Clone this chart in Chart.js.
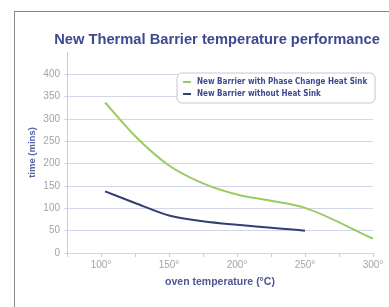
<!DOCTYPE html>
<html lang="en">
<head>
    <meta charset="UTF-8">
    <title>New Thermal Barrier temperature performance</title>
    <script src="https://cdn.jsdelivr.net/npm/chart.js@4.4.1/dist/chart.umd.min.js"></script>
    <style>
        * {
            margin: 0;
            padding: 0;
            box-sizing: border-box;
        }

        body {
            background: #fff;
            width: 389px;
            height: 307px;
            overflow: hidden;
            position: relative;
        }

        /* grey frame round the picture, only top and left show */
        .frame {
            position: absolute;
            left: 14px;
            top: 11px;
            width: 400px;
            height: 320px;
            border-left: 1px solid #8a8a8a;
            border-top: 1px solid #8a8a8a;
        }

        .chart-box {
            position: absolute;
            left: 0;
            top: 0;
            width: 389px;
            height: 307px;
        }
    </style>
</head>
<body>
    <div class="frame"></div>
    <div class="chart-box">
        <canvas id="chart"></canvas>
    </div>

    <script>
        // Data
        const seriesNames = ['New Barrier with Phase Change Heat Sink', 'New Barrier without Heat Sink'];
        const withSinkTemp = [103, 125, 150, 175, 200, 225, 250, 300];
        const withSinkTime = [337, 262, 196, 156, 131, 117, 101, 32];
        const noSinkTemp = [103, 125, 150, 175, 200, 250];
        const noSinkTime = [138, 112, 84, 71, 63, 50];
        const xTickLabels = [100, 150, 200, 250, 300];

        const gridColor = '#d3d6e8';
        const titleColor = '#3d4a8e';
        const baseFont = 'Arial, "Liberation Sans", sans-serif';

        const toPoints = (xs, ys) => xs.map((x, i) => ({ x: x, y: ys[i] }));

        // title + boxed legend inside the plot
        const decorations = {
            id: 'decorations',
            afterDraw(chart) {
                const ctx = chart.ctx;
                ctx.save();
                ctx.fillStyle = titleColor;
                ctx.font = 'bold 14.7px ' + baseFont;
                ctx.textAlign = 'center';
                ctx.textBaseline = 'middle';
                ctx.fillText('New Thermal Barrier temperature performance', 217, 40);

                // legend box
                const bx = 177, by = 73, bw = 198, bh = 30;
                ctx.beginPath();
                ctx.roundRect(bx, by, bw, bh, 5);
                ctx.fillStyle = '#fff';
                ctx.fill();
                ctx.strokeStyle = '#c4c7da';
                ctx.lineWidth = 1;
                ctx.stroke();

                ctx.textAlign = 'left';
                ctx.font = 'bold 8px "DejaVu Sans Condensed", "Liberation Sans Narrow", sans-serif';
                chart.data.datasets.forEach((ds, i) => {
                    const y = 82 + i * 12;
                    ctx.strokeStyle = ds.borderColor;
                    ctx.lineWidth = 2;
                    ctx.beginPath();
                    ctx.moveTo(183, y);
                    ctx.lineTo(191, y);
                    ctx.stroke();
                    ctx.fillStyle = titleColor;
                    ctx.fillText(ds.label, 197, y);
                });
                ctx.restore();
            }
        };

        new Chart(document.getElementById('chart'), {
            type: 'line',
            data: {
                datasets: [{
                    label: seriesNames[0],
                    data: toPoints(withSinkTemp, withSinkTime),
                    borderColor: '#98cc60',
                    borderWidth: 2,
                    pointRadius: 0,
                    cubicInterpolationMode: 'monotone'
                }, {
                    label: seriesNames[1],
                    data: toPoints(noSinkTemp, noSinkTime),
                    borderColor: '#323e74',
                    borderWidth: 2,
                    pointRadius: 0,
                    cubicInterpolationMode: 'monotone'
                }]
            },
            options: {
                responsive: true,
                maintainAspectRatio: false,
                animation: false,
                layout: {
                    padding: { top: 52, right: 16, left: 0, bottom: 0 }
                },
                plugins: {
                    legend: { display: false },
                    title: { display: false },
                    tooltip: { enabled: false }
                },
                scales: {
                    x: {
                        type: 'linear',
                        min: 75,
                        max: 300,
                        afterFit: s => { s.height = 54; },
                        border: { color: gridColor },
                        grid: {
                            drawOnChartArea: false,
                            drawTicks: true,
                            tickLength: 4,
                            color: '#c8cbdc'
                        },
                        ticks: {
                            stepSize: 25,
                            autoSkip: false,
                            maxRotation: 0,
                            padding: 2,
                            color: '#a4a4a4',
                            font: { size: 10, family: baseFont },
                            callback: v => xTickLabels.includes(v) ? v + '°' : ''
                        },
                        title: {
                            display: true,
                            text: 'oven temperature (°C)',
                            color: '#4b5893',
                            font: { size: 10.5, weight: 'bold', family: baseFont },
                            padding: { top: 19, bottom: 19 }
                        }
                    },
                    y: {
                        min: 0,
                        max: 450,
                        afterFit: s => { s.width = 67; },
                        border: { color: '#c8cbdc' },
                        grid: {
                            color: c => c.tick && c.tick.value === 450 ? 'rgba(0,0,0,0)' : gridColor,
                            tickLength: 3
                        },
                        ticks: {
                            stepSize: 50,
                            padding: 4,
                            color: '#a4a4a4',
                            font: { size: 10, family: baseFont },
                            callback: v => v === 450 ? '' : v
                        },
                        title: {
                            display: true,
                            text: 'time (mins)',
                            color: '#5563a3',
                            font: { size: 9.5, weight: 'bold', family: baseFont },
                            padding: { top: 27, bottom: 27 }
                        }
                    }
                }
            },
            plugins: [decorations]
        });
    </script>
</body>
</html>
